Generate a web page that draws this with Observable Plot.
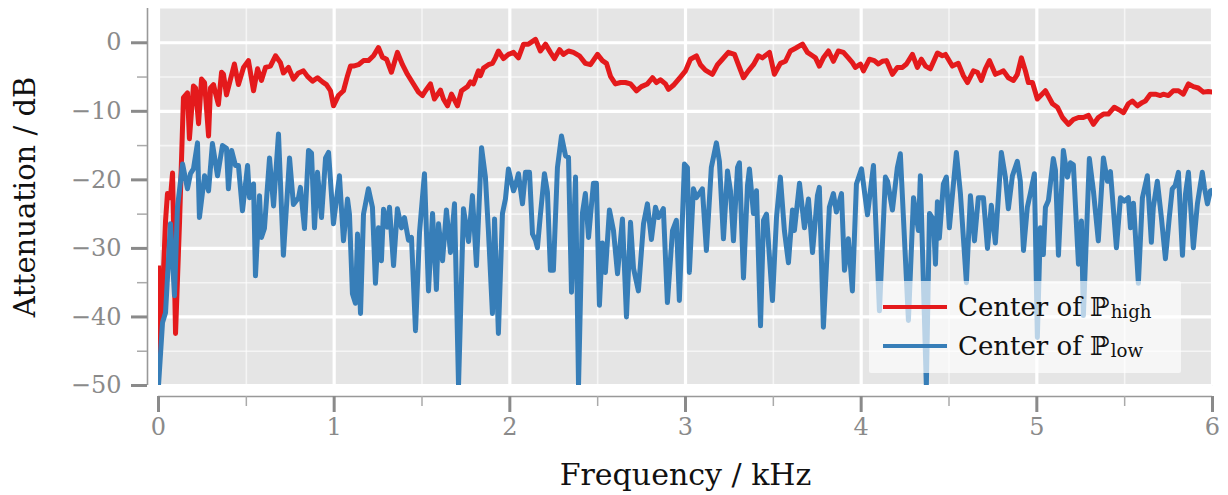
<!DOCTYPE html>
<html><head><meta charset="utf-8">
<script src="https://cdn.jsdelivr.net/npm/d3@7"></script>
<script src="https://cdn.jsdelivr.net/npm/@observablehq/plot@0.6"></script>
<style>
body{margin:0;background:#fff;}
#wrap{position:relative;width:1228px;height:495px;font-family:"DejaVu Serif","Liberation Serif",serif;}
#legend{position:absolute;left:869px;top:281px;width:312px;height:92px;background:rgba(255,255,255,0.66);border-radius:2px;}
.item{position:absolute;left:14px;height:30px;display:flex;align-items:center;font-size:26px;color:#111;white-space:nowrap;}
.sw{width:64px;height:4px;margin-right:11px;}
.item sub{font-size:0.7em;position:relative;top:0.12em;vertical-align:baseline;margin-left:1px;}
</style></head><body><div id="wrap"></div>
<script>
// ---- data (kHz, dB) ----
const redFreq=[0,0.006,0.023,0.040,0.051,0.068,0.080,0.097,0.120,0.142,0.165,0.176,0.199,0.211,0.228,0.245,0.262,0.273,0.285,0.296,0.313,0.324,0.341,0.359,0.370,0.387,0.410,0.432,0.455,0.484,0.512,0.541,0.564,0.586,0.609,0.637,0.666,0.694,0.711,0.740,0.768,0.797,0.825,0.848,0.877,0.905,0.933,0.956,0.979,0.996,1.024,1.053,1.076,1.093,1.110,1.138,1.167,1.195,1.224,1.252,1.275,1.298,1.326,1.360,1.389,1.417,1.446,1.480,1.503,1.520,1.548,1.571,1.605,1.622,1.645,1.668,1.702,1.725,1.759,1.776,1.793,1.821,1.833,1.850,1.878,1.901,1.918,1.935,1.964,1.992,2.021,2.049,2.078,2.106,2.146,2.174,2.203,2.231,2.254,2.283,2.305,2.334,2.362,2.396,2.430,2.459,2.499,2.527,2.550,2.573,2.601,2.630,2.658,2.687,2.721,2.749,2.783,2.812,2.835,2.857,2.886,2.903,2.931,2.971,3.000,3.028,3.062,3.085,3.113,3.153,3.182,3.210,3.244,3.279,3.301,3.330,3.358,3.387,3.415,3.438,3.478,3.506,3.540,3.569,3.597,3.626,3.666,3.694,3.723,3.740,3.762,3.785,3.814,3.842,3.870,3.899,3.927,3.950,3.967,3.996,4.013,4.047,4.075,4.098,4.121,4.144,4.178,4.206,4.235,4.258,4.292,4.320,4.343,4.366,4.394,4.434,4.462,4.480,4.519,4.553,4.582,4.605,4.639,4.662,4.684,4.707,4.730,4.764,4.793,4.810,4.838,4.867,4.889,4.912,4.935,4.952,4.975,5.003,5.049,5.089,5.117,5.146,5.180,5.208,5.237,5.265,5.294,5.322,5.350,5.379,5.407,5.441,5.476,5.493,5.521,5.544,5.572,5.601,5.618,5.646,5.675,5.703,5.720,5.749,5.777,5.806,5.834,5.863,5.891,5.919,5.948,5.976,6.0];
const redAtt=[-32.5,-45.3,-36.6,-26,-22,-22.6,-19,-42.4,-26,-8,-7.3,-14,-6.3,-6.6,-11.8,-5.3,-5.8,-9.5,-13.6,-6.6,-6.1,-7.3,-9,-4.3,-4.6,-7.6,-5.3,-3.1,-6.1,-3.6,-2.6,-7,-3.8,-5.5,-3.6,-3.4,-1.9,-2.9,-4.4,-3.6,-5.3,-4.4,-4.1,-4.9,-5.6,-5.1,-5.7,-6.1,-7,-9.2,-7.7,-7,-4.8,-3.4,-3.4,-3.2,-2.6,-2.6,-1.9,-0.7,-2.1,-2.4,-4.3,-1.4,-3.2,-4.6,-5.8,-7.2,-7.7,-7,-6,-8.2,-6.9,-8.2,-9.2,-7.5,-9.2,-7,-6.4,-5.7,-6,-4.1,-4.8,-3.7,-3.2,-3,-2.2,-1.2,-2.3,-1.7,-1.4,-2.2,-0.2,-0.2,0.5,-1.2,-0.2,-1.4,-2.3,-1,-1.7,-1.2,-1.4,-1.9,-3,-3.2,-1.7,-2.6,-3,-4.9,-6,-5.8,-5.8,-6,-7,-6.4,-6,-5.1,-5.8,-5.4,-6,-6.8,-6.2,-5,-4.1,-2.4,-1.9,-3.2,-4,-4.6,-3.2,-2.4,-1.4,-1.7,-3.2,-5.1,-4.1,-3.2,-1.9,-2.2,-1.4,-4.6,-3,-2.7,-1.2,-0.8,-0.2,-1.4,-1.9,-2.2,-3.4,-2.2,-1.2,-2.7,-1.2,-1.4,-2.2,-2.9,-3.6,-3.1,-4.1,-2.4,-2.6,-3.1,-2.7,-2.6,-4.6,-3.6,-3.6,-3.1,-1.7,-3.6,-2.4,-3.4,-3.8,-1.5,-1.9,-1.7,-3.4,-3,-4.8,-5.8,-4.1,-4.3,-5.5,-3.8,-2.6,-4.6,-4.3,-4.1,-5.1,-5.5,-4.6,-2.2,-4.1,-5.8,-5.8,-8.2,-7,-8.9,-9.4,-10.9,-11.9,-11.2,-10.9,-10.9,-10.6,-11.9,-10.9,-10.4,-10.4,-9.4,-9.9,-10.2,-8.9,-8.5,-9.2,-8.7,-8.5,-7.5,-7.5,-7.7,-7.5,-7.7,-7,-7,-7.5,-6,-6.4,-6.6,-7.2,-7.1,-7.2];
const blueFreq=[0,0.023,0.040,0.068,0.091,0.108,0.137,0.165,0.182,0.199,0.222,0.233,0.262,0.285,0.307,0.336,0.364,0.387,0.398,0.416,0.438,0.455,0.478,0.507,0.518,0.541,0.552,0.575,0.586,0.603,0.632,0.655,0.683,0.711,0.746,0.768,0.797,0.808,0.831,0.854,0.871,0.888,0.905,0.928,0.951,0.968,0.996,1.030,1.053,1.076,1.087,1.104,1.121,1.133,1.150,1.167,1.195,1.218,1.235,1.252,1.269,1.281,1.303,1.315,1.338,1.360,1.383,1.400,1.423,1.440,1.463,1.486,1.514,1.537,1.560,1.582,1.594,1.617,1.639,1.662,1.685,1.708,1.736,1.765,1.787,1.810,1.839,1.861,1.878,1.901,1.913,1.935,1.958,1.975,1.992,2.021,2.032,2.049,2.072,2.089,2.112,2.129,2.146,2.157,2.174,2.197,2.214,2.231,2.248,2.271,2.294,2.317,2.334,2.351,2.374,2.391,2.413,2.430,2.448,2.476,2.493,2.510,2.527,2.544,2.567,2.590,2.613,2.641,2.664,2.687,2.704,2.732,2.761,2.783,2.806,2.829,2.846,2.874,2.897,2.926,2.948,2.965,2.994,3.011,3.022,3.045,3.062,3.096,3.119,3.147,3.176,3.193,3.216,3.239,3.256,3.273,3.296,3.307,3.330,3.353,3.364,3.387,3.404,3.427,3.444,3.461,3.495,3.518,3.540,3.563,3.586,3.609,3.620,3.649,3.677,3.700,3.723,3.751,3.762,3.785,3.819,3.842,3.859,3.888,3.905,3.927,3.950,3.973,4.002,4.036,4.070,4.104,4.138,4.150,4.178,4.206,4.223,4.269,4.298,4.326,4.337,4.371,4.389,4.411,4.423,4.434,4.445,4.468,4.485,4.502,4.542,4.565,4.599,4.622,4.645,4.667,4.696,4.719,4.741,4.764,4.798,4.821,4.838,4.861,4.889,4.906,4.924,4.946,4.963,4.986,5.003,5.020,5.037,5.049,5.066,5.094,5.106,5.123,5.151,5.174,5.191,5.208,5.237,5.254,5.265,5.299,5.322,5.350,5.379,5.402,5.419,5.453,5.476,5.498,5.521,5.533,5.550,5.578,5.601,5.629,5.652,5.663,5.686,5.709,5.732,5.754,5.771,5.788,5.806,5.829,5.846,5.863,5.891,5.914,5.942,5.954,5.971,5.988,6.0];
const blueAtt=[-50,-40.8,-39.4,-26.4,-36.9,-24,-17.7,-21.3,-19.1,-18.4,-14.6,-25.5,-19.4,-21.6,-14.7,-19.4,-15,-15.4,-21.3,-15.7,-17.9,-17.9,-24.5,-17.9,-22.6,-20.6,-34,-22.3,-28.4,-27.1,-16.8,-23.8,-13.3,-31,-16.8,-23.6,-22.6,-21.1,-27.1,-15.7,-16.1,-27,-18.9,-25.5,-16.8,-16,-26.4,-19.4,-28.9,-22.8,-25,-36.6,-38,-27.9,-39.5,-25,-21.3,-24,-35.1,-27,-31.8,-24.3,-26.9,-24,-32.5,-24.2,-27,-25.5,-28.8,-28.4,-42,-27.6,-19.1,-36.2,-24.9,-36,-26.4,-31.8,-24.4,-30.6,-23.5,-50,-24.2,-29,-22.3,-32.5,-15.3,-19.6,-27.4,-39.5,-25.7,-42.4,-24.9,-22.8,-18.4,-21.6,-20.8,-19.1,-23.5,-18.9,-18.9,-27.9,-28.8,-29.9,-25.1,-19.1,-21.8,-33.2,-33.2,-18.2,-13.6,-16.5,-16.7,-36.4,-19.6,-50,-24.9,-22,-28.4,-20.5,-20.5,-38.3,-29.2,-33.5,-24.4,-27.4,-33.7,-25.7,-40,-26.2,-32.9,-36.2,-26.4,-23.5,-28.7,-24,-25.5,-24.2,-37.9,-27.4,-25.9,-37.6,-17.7,-18.2,-33.5,-21.3,-22.6,-21.3,-30.3,-18.2,-14.6,-17.3,-28.6,-18.7,-21.6,-28.9,-18.2,-17.5,-34.3,-20.8,-18.4,-24.9,-21.6,-41.3,-25.9,-25,-37.6,-25.5,-19.6,-27.4,-32.1,-24.4,-27.4,-20.5,-27,-22.8,-30.6,-22.3,-21.1,-41.5,-24,-22,-24.7,-22,-33.2,-28.6,-36.2,-20.6,-18.4,-25.1,-17.9,-39.1,-19.6,-20.2,-24.4,-18.2,-16.2,-40.5,-22.6,-27.4,-19.4,-50,-24.9,-25.8,-32.3,-23.2,-28.5,-20.6,-19.6,-27,-16,-22,-35,-22.3,-28.9,-22.6,-22.6,-30,-23.7,-29.2,-16,-19.6,-24.2,-19.4,-17.3,-20.2,-30.3,-24,-22,-19.1,-43,-27,-30.9,-24,-23,-16.9,-18.6,-31,-15.7,-19.6,-17.5,-17.8,-32.3,-26,-39.8,-16.9,-21.6,-28.9,-16.8,-20.2,-18.8,-29.9,-22.6,-23.1,-22.6,-27,-23.4,-35.1,-22.6,-19.4,-29.1,-24,-20.2,-25.5,-31.5,-25.5,-21.3,-20.8,-18.9,-31,-22.1,-18.9,-29.9,-23.5,-18.9,-21.1,-23.5,-21.6,-21.5];

const xMajor=[0,1,2,3,4,5,6];
const xMinor=[0.5,1.5,2.5,3.5,4.5,5.5];
const yMajor=[-50,-40,-30,-20,-10,0];
const yMinor=[-45,-35,-25,-15,-5];
const xTickLabels=["0","1","2","3","4","5","6"];
const yTickLabels=["\u221250","\u221240","\u221230","\u221220","\u221210","0"];
const seriesNames=["Center of \u2119","Center of \u2119"];
const seriesSubs=["high","low"];
const xTitle="Frequency / kHz";
const yTitle="Attenuation / dB";

const colors=["#e41a1c","#377eb8"];
const red=redFreq.map((f,i)=>({f,a:redAtt[i]}));
const blue=blueFreq.map((f,i)=>({f,a:blueAtt[i]}));
const tickGray="#8a8a8a";
const serif='"DejaVu Serif","Liberation Serif",serif';

const chart=Plot.plot({
  width:1228,height:495,
  marginLeft:158,marginRight:16,marginTop:8,marginBottom:110,
  x:{domain:[0,6]},
  y:{domain:[-50,5]},
  style:{fontFamily:serif,background:"transparent",overflow:"visible"},
  marks:[
    Plot.frame({fill:"#e5e5e5",stroke:null}),
    Plot.gridX(xMinor,{stroke:"#fff",strokeOpacity:0.6,strokeWidth:1.6}),
    Plot.gridY(yMinor,{stroke:"#fff",strokeOpacity:0.6,strokeWidth:1.6}),
    Plot.gridX(xMajor,{stroke:"#fff",strokeOpacity:1,strokeWidth:3.2}),
    Plot.gridY(yMajor,{stroke:"#fff",strokeOpacity:1,strokeWidth:3.2}),
    Plot.line(red,{x:"f",y:"a",stroke:colors[0],strokeWidth:5,strokeLinejoin:"round",strokeLinecap:"butt",clip:true}),
    Plot.line(blue,{x:"f",y:"a",stroke:colors[1],strokeWidth:5,strokeLinejoin:"round",strokeLinecap:"butt",clip:true}),
    // spines (offset outward)
    Plot.ruleY([-50],{dy:11,stroke:"#999",strokeWidth:1.6}),
    Plot.ruleX([0],{dx:-11,stroke:"#999",strokeWidth:1.6}),
    // x ticks
    Plot.axisX(xMajor,{tickSize:16,strokeWidth:3,stroke:tickGray,fill:tickGray,fontSize:24,fontFamily:serif,tickPadding:5,dy:11,label:null,tickFormat:(d,i)=>xTickLabels[i]}),
    Plot.axisX(xMinor,{tickSize:10,strokeWidth:1.5,stroke:"#aaa",text:null,dy:11,label:null}),
    // y ticks
    Plot.axisY(yMajor,{tickSize:16,strokeWidth:3,stroke:tickGray,fill:tickGray,fontSize:24,fontFamily:serif,tickPadding:10,dx:-11,label:null,tickFormat:(d,i)=>yTickLabels[i]}),
    Plot.axisY(yMinor,{tickSize:10,strokeWidth:1.5,stroke:"#aaa",text:null,dx:-11,label:null}),
    // titles
    Plot.text([xTitle],{frameAnchor:"bottom",dy:90,lineAnchor:"middle",textAnchor:"middle",fontSize:30,fontFamily:serif,fill:"#111"}),
    Plot.text([yTitle],{frameAnchor:"left",dx:-133,rotate:-90,lineAnchor:"middle",textAnchor:"middle",fontSize:29,fontFamily:serif,fill:"#111"})
  ]
});
const wrap=document.getElementById("wrap");
wrap.appendChild(chart);
const leg=document.createElement("div");
leg.id="legend";
seriesNames.forEach((n,i)=>{
  const it=document.createElement("div");
  it.className="item";
  it.style.top=(11+i*39)+"px";
  const sw=document.createElement("div");
  sw.className="sw";sw.style.background=colors[i];
  const tx=document.createElement("span");
  tx.textContent=n;
  const sb=document.createElement("sub");
  sb.textContent=seriesSubs[i];
  tx.appendChild(sb);
  it.appendChild(sw);it.appendChild(tx);
  leg.appendChild(it);
});
wrap.appendChild(leg);
</script></body></html>
